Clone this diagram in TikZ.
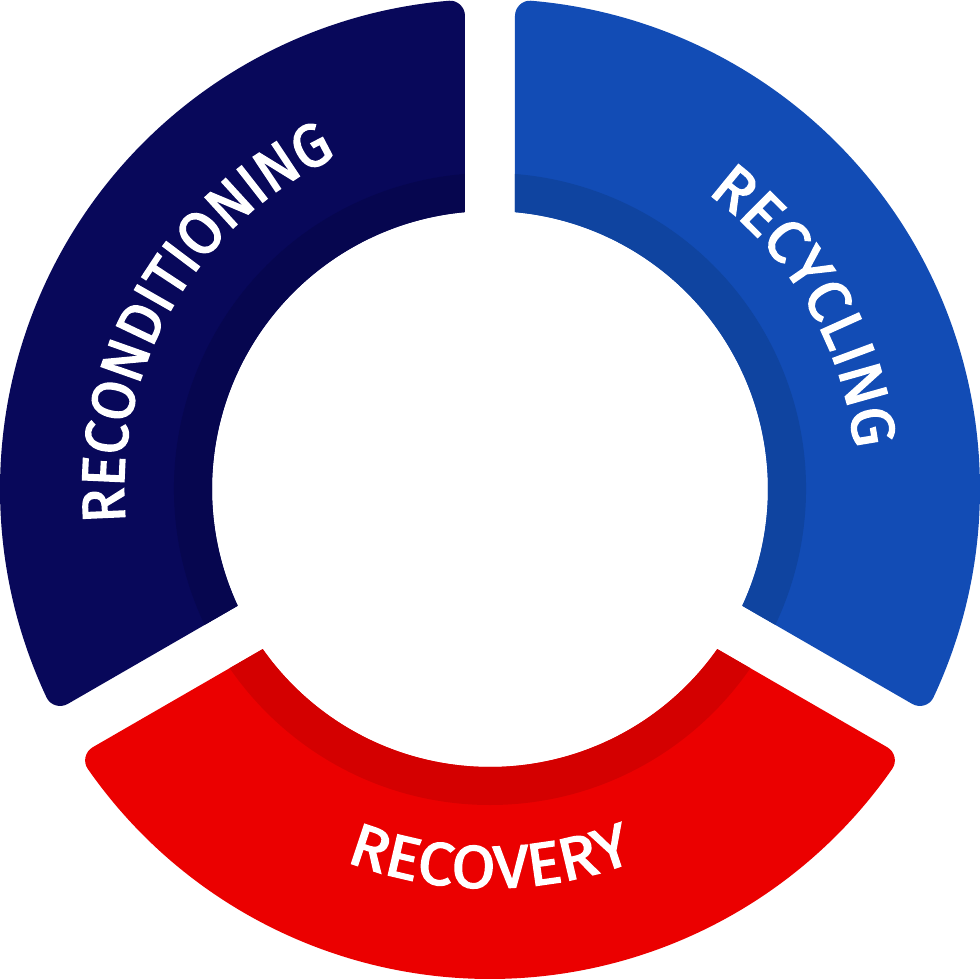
\documentclass[tikz,border=0pt]{standalone}
\usepackage{fontspec}
\setmainfont{Fira Sans}
\newfontfamily\segfontA{Fira Sans}[FakeBold=2.6, FakeStretch=0.96]
\newfontfamily\segfontB{Fira Sans}[FakeBold=2.6, FakeStretch=1.03]
\newfontfamily\segfontC{Fira Sans}[FakeBold=2.6, FakeStretch=1.06]
\usetikzlibrary{decorations.text}
\definecolor{navymain}{RGB}{8,8,90}
\definecolor{navydark}{RGB}{6,6,79}
\definecolor{bluemain}{RGB}{18,76,181}
\definecolor{bluedark}{RGB}{15,68,160}
\definecolor{redmain}{RGB}{235,0,0}
\definecolor{reddark}{RGB}{212,0,0}
\newcommand\segshape{(-54.84:278pt) -- (258.15pt,-397.13pt) .. controls (262.65pt,-404.92pt) and (-56.2:490pt) .. (-55.2:490pt) arc[start angle=-55.2, end angle=55.2, radius=490pt] .. controls (56.2:490pt) and (262.65pt,404.92pt) .. (258.15pt,397.13pt) -- (54.84:278pt) arc[start angle=54.84, end angle=-54.84, radius=278pt] -- cycle}
\newcommand\drawsegment[3]{%
  \begin{scope}[rotate=#1]
    \fill[#2] \segshape;
    \begin{scope}
      \clip \segshape;
      \fill[#3] (0,0) circle (316pt);
    \end{scope}
  \end{scope}}
\tikzset{
  arclabel/.style 2 args={decorate, decoration={text along path, text align=center,
    text={|#1\fontsize{60}{60}\selectfont\color{white}|#2}}}
}
\begin{document}
\begin{tikzpicture}
\useasboundingbox (-490pt,-489pt) rectangle (490pt,489pt);
\fill[white] (-490pt,-489pt) rectangle (490pt,489pt);
\drawsegment{150}{navymain}{navydark}
\drawsegment{30}{bluemain}{bluedark}
\drawsegment{270}{redmain}{reddark}
\path[arclabel={\segfontA}{RECONDITIONING}] (195:366pt) arc[start angle=195, end angle=105, radius=366pt];
\path[arclabel={\segfontB}{RECYCLING}] (75:367pt) arc[start angle=75, end angle=-15, radius=367pt];
\path[arclabel={\segfontC}{RECOVERY}] (225:399pt) arc[start angle=225, end angle=315, radius=399pt];
\end{tikzpicture}
\end{document}
